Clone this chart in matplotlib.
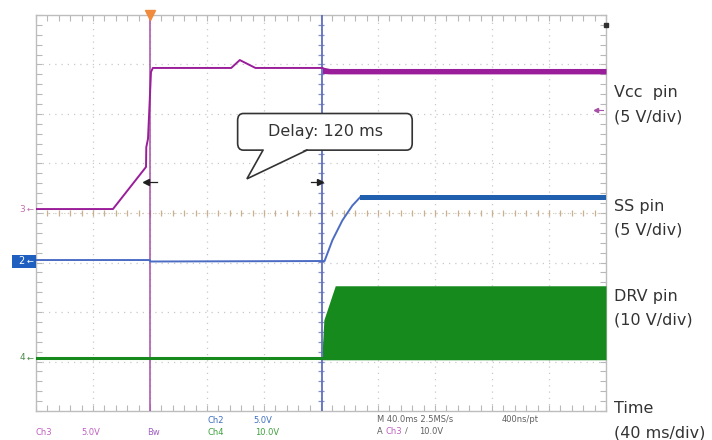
import numpy as np
import matplotlib
matplotlib.use("Agg")
import matplotlib.pyplot as plt
from matplotlib.patches import FancyBboxPatch, Polygon

# ---------------- data (time in ms, level in divisions) ----------------
vcc_t = [0, 54, 77.2, 77.4, 78.6, 80.7, 82, 137, 143, 154, 201]
vcc_d = [4.08, 4.08, 4.93, 5.33, 5.5, 6.85, 6.93, 6.93, 7.09, 6.93, 6.93]
vcc_band_t = [201, 206, 400]
vcc_band_lo = [6.82, 6.81, 6.81]
vcc_band_hi = [6.95, 6.92, 6.92]

ss_t = [0, 80, 80, 202.5, 208, 215, 222, 227.5]
ss_d = [3.05, 3.05, 3.02, 3.03, 3.45, 3.85, 4.15, 4.32]
ss_band_t = [227.5, 400]
ss_band_lo = [4.27, 4.27]
ss_band_hi = [4.36, 4.36]

drv_t = [0, 201]
drv_d = [1.065, 1.065]
drv_band_t = [201, 202, 210, 400]
drv_band_top = [1.3, 1.84, 2.53, 2.53]
drv_base = 1.065

cursor_a = 80      # ms
cursor_b = 201     # ms
trig_level = 6.08  # div

right_labels = [("Vcc  pin", 92), ("(5 V/div)", 117), ("SS pin", 206), ("(5 V/div)", 230),
                ("DRV pin", 296), ("(10 V/div)", 320), ("Time", 408), ("(40 ms/div)", 433)]

# ---------------- figure ----------------
W, H = 712, 440
fig = plt.figure(figsize=(W / 100, H / 100), dpi=100)
ax = fig.add_axes([36 / W, 1 - 411 / H, 570 / W, 396 / H])
ax.set_xlim(0, 400)
ax.set_ylim(0, 8)

MAG = "#9a1e9a"
MAG_L = "#a650a6"
BLUE = "#4c6cc4"
BLUE_D = "#1f5fae"
GREEN = "#168a1c"
GRID = "#c9c9c9"

# grid
for gx in np.arange(40, 400, 40):
    ax.axvline(gx, color=GRID, lw=0.9, ls=(0, (1, 4)), zorder=0)
for gy in np.arange(1, 8, 1):
    ax.axhline(gy, color=GRID, lw=0.9, ls=(0, (1, 4)), zorder=0)

# frame ticks
ax.set_xticks(np.arange(0, 401, 8))
ax.set_yticks(np.arange(0, 8.01, 0.2))
ax.tick_params(axis="both", direction="in", length=4, width=0.8, color="#b8b8b8",
               top=True, right=True, labelleft=False, labelbottom=False)
for s in ax.spines.values():
    s.set_color("#bdbdbd")
    s.set_linewidth(1.0)

# center-line ticks
ax.plot(np.arange(8, 400, 8), np.full(49, 4.0), ls="none", marker="|", ms=5,
        color="#c8b090", mew=0.9, zorder=1)
ax.axhline(4.0, color="#d8c8a8", lw=0.8, ls=(0, (1, 4)), zorder=0)
ax.plot(np.full(39, 200.0), np.arange(0.2, 8, 0.2), ls="none", marker="_", ms=5,
        color="#8890c8", mew=0.9, zorder=1)

# cursors
ax.axvline(cursor_a, color=MAG_L, lw=1.1, zorder=3)
ax.axvline(cursor_b, color="#6070c0", lw=1.3, zorder=3)

# traces
ax.plot(drv_t, drv_d, color=GREEN, lw=2.2, zorder=4)
ax.fill_between(drv_band_t, drv_base - 0.03, drv_band_top, color=GREEN, lw=0, zorder=4)
ax.plot(ss_t, ss_d, color=BLUE, lw=1.4, zorder=4)
ax.fill_between(ss_band_t, ss_band_lo, ss_band_hi, color=BLUE_D, lw=0, zorder=4)
ax.plot(vcc_t, vcc_d, color=MAG, lw=1.4, zorder=5)
ax.fill_between(vcc_band_t, vcc_band_lo, vcc_band_hi, color=MAG, lw=0, zorder=5)

# trigger marker top
ax.plot([cursor_a], [8.0], marker="v", ms=7, color="#f08a3c", clip_on=False, zorder=6)
# trigger level marker right
ax.plot([393], [trig_level], marker="<", ms=3, color=MAG_L, zorder=6)
ax.plot([393, 398], [trig_level, trig_level], color=MAG_L, lw=0.8, zorder=6)
ax.plot([400], [7.8], marker="s", ms=2.5, color="#303030", clip_on=False, zorder=6)

# delay arrows
ax.plot([cursor_a - 2.5], [4.63], marker="<", ms=5, color="#202020", zorder=6)
ax.plot([cursor_a - 2.5, cursor_a + 5], [4.63, 4.63], color="#202020", lw=0.9, zorder=6)
ax.plot([cursor_b - 2], [4.63], marker=">", ms=5, color="#202020", zorder=6)
ax.plot([cursor_b - 8, cursor_b - 2], [4.63, 4.63], color="#202020", lw=0.9, zorder=6)

# callout
box = FancyBboxPatch((141.5, 5.27), 122.5, 0.74,
                     boxstyle="round,pad=0,rounding_size=4",
                     mutation_aspect=0.035,
                     facecolor="white", edgecolor="#333333", lw=1.2, zorder=7)
ax.add_patch(box)
tail = Polygon([(159.3, 5.30), (148, 4.69), (190.2, 5.30)], closed=True,
               facecolor="white", edgecolor="none", zorder=8)
ax.add_patch(tail)
ax.plot([159.3, 148, 190.2], [5.27, 4.69, 5.27], color="#333333", lw=1.2, zorder=9,
        solid_joinstyle="miter")
ax.text(203, 5.64, "Delay: 120 ms", ha="center", va="center", fontsize=11.5,
        color="#333333", family="DejaVu Sans", zorder=10)

# left channel markers
fig.text(22 / W, 1 - 209 / H, "3", color="#c070b0", fontsize=6.5, ha="center", va="center")
fig.text(30 / W, 1 - 209 / H, "\u2190", color="#c070b0", fontsize=6, ha="center", va="center")
fig.patches.append(FancyBboxPatch((12 / W, 1 - 268 / H), 24 / W, 13 / H,
                                  boxstyle="square,pad=0", transform=fig.transFigure,
                                  facecolor="#1f5fbf", edgecolor="none"))
fig.text(21 / W, 1 - 261 / H, "2", color="white", fontsize=7, ha="center", va="center")
fig.text(30 / W, 1 - 261 / H, "\u2190", color="white", fontsize=6, ha="center", va="center")
fig.text(22 / W, 1 - 358 / H, "4", color="#4a8a4a", fontsize=6.5, ha="center", va="center")
fig.text(30 / W, 1 - 358 / H, "\u2190", color="#4a8a4a", fontsize=6, ha="center", va="center")

# bottom status texts
small = dict(fontsize=6, va="center", ha="left")
fig.text(36 / W, 1 - 432 / H, "Ch3", color="#c060c0", **small)
fig.text(81 / W, 1 - 432 / H, "5.0V", color="#c060c0", **small)
fig.text(147 / W, 1 - 432 / H, "Bw", color="#a060c0", **small)
fig.text(207 / W, 1 - 420 / H, "Ch2", color="#4070c0", **small)
fig.text(253 / W, 1 - 420 / H, "5.0V", color="#4070c0", **small)
fig.text(207 / W, 1 - 432 / H, "Ch4", color="#40a040", **small)
fig.text(255 / W, 1 - 432 / H, "10.0V", color="#40a040", **small)
fig.text(377 / W, 1 - 419 / H, "M 40.0ms 2.5MS/s", color="#606060", **small)
fig.text(502 / W, 1 - 419 / H, "400ns/pt", color="#606060", **small)
fig.text(377 / W, 1 - 431 / H, "A", color="#606060", **small)
fig.text(385 / W, 1 - 431 / H, "Ch3", color="#c060c0", **small)
fig.text(405 / W, 1 - 431 / H, "\u2215", color="#606060", **small)
fig.text(419 / W, 1 - 431 / H, "10.0V", color="#606060", **small)

# right labels
for txt, y in right_labels:
    fig.text(614 / W, 1 - y / H, txt, fontsize=11.5, color="#333333",
             ha="left", va="center", family="DejaVu Sans")

fig.savefig("out.png", dpi=100)
